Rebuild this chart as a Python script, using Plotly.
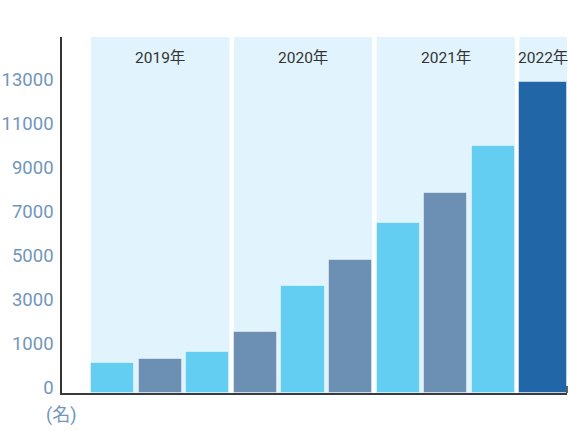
import plotly.graph_objects as go

# Data
years = ["2019年", "2020年", "2021年", "2022年"]
year_bar_counts = [3, 3, 3, 1]
values = [1380, 1530, 1880, 2770, 4860, 6050, 7710, 9090, 11230, 14120]
bar_groups = ["a", "b", "a", "b", "a", "b", "a", "b", "a", "c"]
tick_vals = [0, 2000, 4000, 6000, 8000, 10000, 12000, 14000]
tick_text = ["0", "1000", "3000", "5000", "7000", "9000", "11000", "13000"]
unit_label = "(名)"

color_map = {"a": "#63cef2", "b": "#6c90b3", "c": "#2166a6"}
bar_colors = [color_map[g] for g in bar_groups]

n = len(values)
xs = list(range(n))
bar_w = 0.908
widths = [bar_w] * (n - 1) + [1.0]

plot_l, plot_r, plot_t, plot_b = 62, 567, 37, 393

fig = go.Figure()
fig.add_trace(go.Bar(
    x=xs, y=values, width=widths, offset=-0.5,
    marker=dict(color=bar_colors, line=dict(color="rgba(255,255,255,0.45)", width=1)),
    hoverinfo="skip", showlegend=False,
))

shapes = []
annotations = []
start = 0
for yr, cnt in zip(years, year_bar_counts):
    end = start + cnt - 1
    x0 = start - 0.5
    x1 = end - 0.5 + widths[end]
    shapes.append(dict(type="rect", xref="x", yref="paper", x0=x0, x1=x1, y0=0, y1=1,
                       fillcolor="#e1f4fd", line=dict(width=0), layer="below"))
    annotations.append(dict(x=(x0 + x1) / 2, y=(plot_b - 58) / (plot_b - plot_t),
                            xref="x", yref="paper", text=yr,
                            showarrow=False, xanchor="center", yanchor="middle",
                            font=dict(size=15.5, color="#333333",
                                      family="Roboto, 'Noto Sans CJK JP', sans-serif")))
    start += cnt

# small end tick at right of x axis
shapes.append(dict(type="line", xref="paper", yref="paper", x0=1.0, x1=1.0,
                   y0=0, y1=7 / (plot_b - plot_t), line=dict(color="#333333", width=1.5)))

annotations.append(dict(x=(61 - plot_l) / (plot_r - plot_l),
                        y=(plot_b - 415) / (plot_b - plot_t),
                        xref="paper", yref="paper", text=unit_label,
                        showarrow=False, xanchor="center", yanchor="middle",
                        font=dict(size=18, color="#7096bb",
                                  family="Roboto, 'Noto Sans CJK JP', sans-serif")))

fig.update_layout(
    width=572, height=431,
    margin=dict(l=plot_l, r=572 - plot_r, t=plot_t, b=431 - plot_b, autoexpand=False),
    paper_bgcolor="white", plot_bgcolor="white",
    bargap=0,
    shapes=shapes, annotations=annotations,
    font=dict(family="Roboto, 'Noto Sans CJK JP', sans-serif"),
    xaxis=dict(range=[-1.11, 9.5], showticklabels=False, showgrid=False, zeroline=False,
               showline=True, linecolor="#3a3a3a", linewidth=2, ticks="", fixedrange=True,
               automargin=False),
    yaxis=dict(range=[0, 16180], tickvals=tick_vals, ticktext=tick_text, showgrid=False,
               zeroline=False, showline=True, linecolor="#333333", linewidth=1.5,
               ticks="", ticklen=0, ticklabelstandoff=3, ticklabelshift=-5, automargin=False,
               tickfont=dict(size=18.5, color="#7096bb", family="Roboto"), fixedrange=True),
)

fig.write_html(
    "out.html",
    config={"displayModeBar": False},
    post_script="document.body.style.margin='0';document.body.style.overflow='hidden';",
)
